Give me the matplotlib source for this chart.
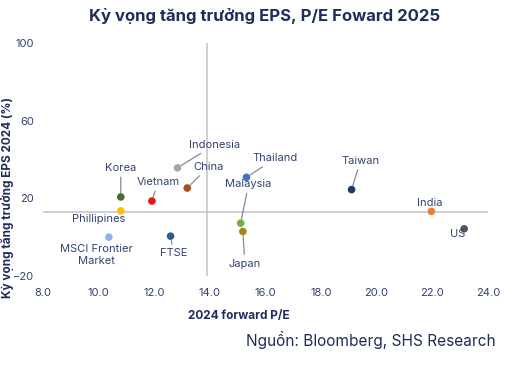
import matplotlib.pyplot as plt

plt.rcParams['font.family'] = ['Inter', 'DejaVu Sans']

countries = ["Korea", "Phillipines", "MSCI Frontier\nMarket", "Vietnam", "Indonesia",
             "FTSE", "China", "Thailand", "Malaysia", "Japan", "Taiwan", "India", "US"]
pe_2024 = [10.8, 10.8, 10.37, 11.92, 12.84, 12.59, 13.19, 15.32, 15.11, 15.19, 19.1, 21.97, 23.15]
eps_growth = [20.7, 13.5, 0.0, 18.6, 35.7, 0.5, 25.3, 30.8, 7.2, 2.9, 24.5, 13.3, 4.3]
ref_pe = 13.9
ref_eps = 13.0

colors = ["#4a6b2e", "#ffc000", "#8db4e2", "#e8121a", "#a6a6a6", "#2e5f8a", "#a5501e",
          "#4472c4", "#70ad47", "#a5841f", "#1f3864", "#ed7d31", "#505860"]
# label offsets in pixels, and whether a leader line is drawn
offsets = [(0, 29), (-22, -8), (-12, -18), (6, 19), (37, 23), (3, -17), (21, 21),
           (29, 19), (8, 39), (2, -32), (9, 29), (-2, 8), (-7, -5)]
leaders = [True, False, False, True, True, True, True, True, True, True, True, False, False]

navy = "#1f2d5a"
txt = "#34426e"

fig = plt.figure(figsize=(5.05, 3.65), dpi=100)
ax = fig.add_axes([0.085, 0.244, 0.881, 0.638])

ax.axvline(ref_pe, color="#c8c8c8", lw=1.2, zorder=1)
ax.axhline(ref_eps, color="#c8c8c8", lw=1.2, zorder=1)
ax.scatter(pe_2024, eps_growth, s=30, c=colors, zorder=3, edgecolors="none")

for name, x, y, off, lead in zip(countries, pe_2024, eps_growth, offsets, leaders):
    ax.annotate(name, (x, y), xytext=off, textcoords="offset pixels",
                ha="center", va="center", fontsize=8, color=txt,
                linespacing=1.3,
                arrowprops=dict(arrowstyle="-", color="#8a8a8a", lw=0.9,
                                shrinkA=1, shrinkB=3) if lead else None)

ax.set_xlim(8, 24)
ax.set_ylim(-20, 100)
ax.set_xticks([8, 10, 12, 14, 16, 18, 20, 22, 24])
ax.set_xticklabels([f"{v:.1f}" for v in ax.get_xticks()])
ax.set_yticks([-20, 20, 60, 100])
for s in ax.spines.values():
    s.set_visible(False)
ax.tick_params(length=0, labelsize=8, labelcolor=txt, pad=6.5)
ax.tick_params(axis="x", pad=9)

fig.text(0.473, 0.134, "2024 forward P/E", ha="center", va="center",
         fontsize=8.5, fontweight="bold", color=navy)
fig.text(0.014, 0.46, "Kỳ vọng tăng trưởng EPS 2024 (%)", ha="center", va="center",
         rotation=90, fontsize=8.5, fontweight="bold", color=navy)
fig.text(0.523, 0.957, "Kỳ vọng tăng trưởng EPS, P/E Foward 2025", ha="center", va="center",
         fontsize=12, fontweight="bold", color=navy)
fig.text(0.982, 0.068, "Nguồn: Bloomberg, SHS Research", ha="right", va="center",
         fontsize=11.1, color=navy)

fig.savefig("out.png", dpi=100)
